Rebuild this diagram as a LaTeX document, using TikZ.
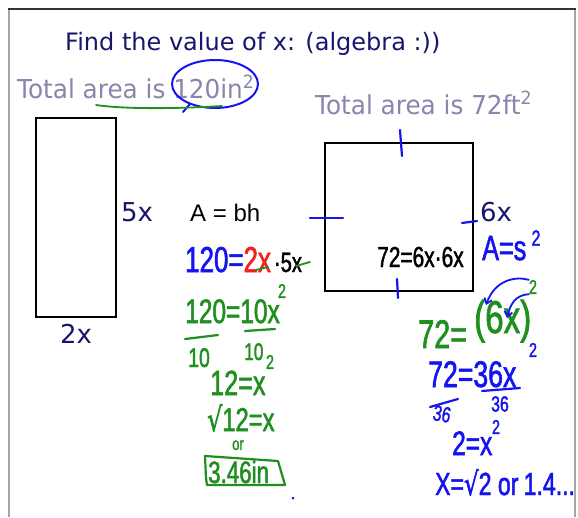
\documentclass[tikz,border=0pt]{standalone}
\usepackage{fontspec}
\usepackage{tikz}
\usetikzlibrary{arrows.meta}
\setmainfont{DejaVu Sans}
\newfontfamily\printfont{DejaVu Sans}
\newfontfamily\givenfont[FakeStretch=0.95]{DejaVu Sans}
\newfontfamily\arialfont{Liberation Sans}
\newfontfamily\handfont[FakeStretch=0.72,FakeBold=1.5]{Liberation Sans}
\newfontfamily\rootfont[FakeStretch=0.72,FakeBold=1.5]{DejaVu Sans}
\definecolor{navy}{HTML}{16166C}
\definecolor{lilac}{HTML}{8686AE}
\definecolor{penblue}{HTML}{1414F0}
\definecolor{pengreen}{HTML}{1F8F1F}
\definecolor{penred}{HTML}{F52020}
\newcommand{\fs}[1]{\fontsize{#1}{#1}\selectfont}
\newcommand{\rt}{\smash{\rootfont √}}

\begin{document}
\begin{tikzpicture}[x=1pt,y=-1pt,
  given/.style={inner sep=0pt,anchor=base west,font=\givenfont\fs{26},text=lilac},
  typed/.style={inner sep=0pt,anchor=base west,font=\printfont\fs{26},text=navy},
  hand/.style={inner sep=0pt,anchor=base west,font=\handfont\fs{#1}},
  hand/.default=35,
  sup/.style={hand=20,anchor=center},
  outline/.style={draw=black,line width=1.6pt},
  pen/.style={line width=2.2pt,line cap=round,line join=round},
  tick/.style={pen,penblue},
  arr/.style={pen,penblue,line width=1.8pt,-{Straight Barb[length=5pt,width=8pt]}}]
  \fill[white] (0,0) rectangle (578,517);
  \useasboundingbox (0,0) rectangle (578,517);
  % board frame
  \draw[line width=1.5pt,gray!70] (9,517) -- (9,9);
  \draw[line width=1.5pt,gray!70] (575,9) -- (575,517);
  \draw[line width=1.5pt,black!80] (8,9) -- (576,9);
  % question
  \node[typed,font=\printfont\fs{24}] (title) at (65,50) {Find the value of x: (algebra :))};
  \node[given] (area1) at (17,98) {Total area is 120in\textsuperscript{2}};
  \node[given] (area2) at (315,114) {Total area is 72ft\textsuperscript{2}};
  \draw[pen,penblue,line width=2pt] (215,84) ellipse [x radius=43pt,y radius=24pt];
  \draw[pen,penblue,line width=2pt] (190,104) -- (183,112);
  \draw[pen,pengreen,line width=1.8pt] (96,105) .. controls (130,110) and (190,108) .. (222,106);
  % rectangle
  \draw[outline] (36,118) rectangle (116,317);
  \node[typed] (h1) at (121,221) {5x};
  \node[typed] (b1) at (60,343) {2x};
  % square
  \draw[outline] (325,143) rectangle (473,291);
  \node[typed] (s1) at (480,221) {6x};
  \draw[tick] (400,130) -- (402,156);
  \draw[tick] (310,218) -- (343,218);
  \draw[tick] (397,279) -- (398,298);
  \draw[tick] (462,223) -- (477,221);
  % rectangle work
  \node[inner sep=0pt,anchor=base west,font=\arialfont\fs{24}] (formula1) at (190,221) {A = bh};
  \node[hand=36] (eq1) at (185,272) {\color{penblue}120=\color{penred}2x\hspace{3pt}\color{black}\fs{28}·5x};
  \draw[pen,pengreen,line width=1.8pt] (256,270) -- (268,267);
  \draw[pen,pengreen,line width=1.8pt] (296,266) -- (310,262);
  \node[hand=34,text=pengreen] (eq2) at (185,323) {120=10x};
  \node[sup,text=pengreen] (e2) at (282,291) {2};
  \draw[pen,pengreen] (185,339) -- (218,335);
  \draw[pen,pengreen] (245,331) -- (275,329);
  \node[hand=27,text=pengreen] (d1) at (188,367) {10};
  \node[hand=24,text=pengreen] (d2) at (244,360) {10};
  \node[sup,text=pengreen] (e3) at (270,362) {2};
  \node[hand=35,text=pengreen] (eq3) at (210,395) {12=x};
  \node[hand=33,text=pengreen] (eq4) at (207,431) {\rt12=x};
  \node[hand=18,text=pengreen,anchor=base] (or1) at (238,450) {or};
  \node[hand=31,text=pengreen] (ans1) at (208,483) {3.46in};
  \draw[pen,pengreen] (206,478) -- (205,456) -- (278,461) -- (285,485) -- (207,485) -- cycle;
  \fill[penblue] (293,498) circle (1.5pt);
  % square work
  \node[hand=29] (eq5) at (377,267) {72=6x·6x};
  \node[hand=35,text=penblue] (eq6) at (482,260) {A=s};
  \node[sup,hand=22,text=penblue,anchor=center] (e6) at (536,238) {2};
  \node[hand=40,text=pengreen] (eq7) at (418,348) {72=};
  \node[hand=46,text=pengreen] (eq7b) at (474,333) {(6x)};
  \node[sup,text=pengreen] (e7) at (533,287) {2};
  \coordinate (six) at (486,305);
  \coordinate (ex) at (507,318);
  \draw[arr] (e7.north west) .. controls (515,276) and (495,280) .. (six);
  \draw[arr] (e7.south west) .. controls (515,295) and (510,305) .. (ex);
  \node[hand=37,text=penblue] (eq8) at (428,387) {72=36x};
  \node[sup,text=penblue] (e8) at (533,350) {2};
  \draw[pen,penblue] (430,407) -- (458,399);
  \draw[pen,penblue] (482,391) -- (520,388);
  \node[hand=22,text=penblue,anchor=center,rotate=-10] (d3) at (442,414) {36};
  \node[hand=22,text=penblue,anchor=center] (d4) at (500,404) {36};
  \node[hand=34,text=penblue] (eq9) at (452,455) {2=x};
  \node[sup,text=penblue] (e9) at (496,427) {2};
  \node[hand=32,text=penblue] (eq10) at (435,495) {X=\rt2 or\,1.4...};
\end{tikzpicture}
\end{document}
